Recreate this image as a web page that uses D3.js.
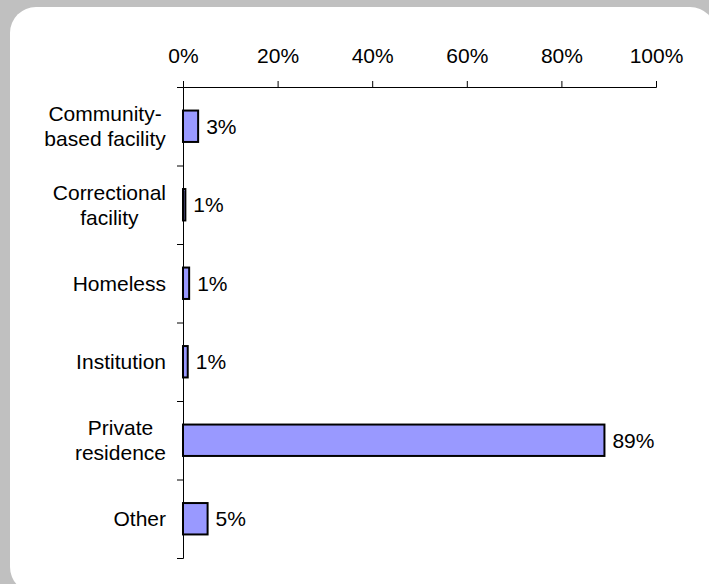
<!DOCTYPE html>
<html><head><meta charset="utf-8">
<script src="https://cdn.jsdelivr.net/npm/d3@7"></script>
<style>html,body{margin:0;padding:0;background:#c0c0c0;}svg{display:block;}</style>
</head><body>
<svg id="chart" width="709" height="584"></svg>
<script>
const categories = [["Community-","based facility"],["Correctional","facility"],["Homeless"],["Institution"],["Private","residence"],["Other"]];
const categoryKeys = ["Community-based facility","Correctional facility","Homeless","Institution","Private residence","Other"];
const values = [3.2, 0.5, 1.3, 1.0, 89.1, 5.2];
const valueLabels = ["3%","1%","1%","1%","89%","5%"];
const tickValues = [0,20,40,60,80,100];
const tickLabels = ["0%","20%","40%","60%","80%","100%"];

const svg = d3.select("#chart");
const font = "Liberation Sans, Arial, sans-serif";
const fs = 21;

svg.append("rect").attr("x",10).attr("y",7).attr("width",706).attr("height",586)
  .attr("rx",26).attr("ry",26).attr("fill","#ffffff");

const x0 = 183, x1 = 656, yTop = 87, yBot = 558;
const x = d3.scaleLinear().domain([0,100]).range([x0,x1]);
const y = d3.scaleBand().domain(categoryKeys).range([yTop,yBot]).paddingInner(0.6).paddingOuter(0.3);
const yb = d3.scaleLinear().domain([0,6]).range([yTop,yBot]);

// bars
svg.append("g").selectAll("rect").data(values).join("rect")
  .attr("x", x(0))
  .attr("y", (d,i)=>y(categoryKeys[i]))
  .attr("width", d=>x(d)-x(0))
  .attr("height", y.bandwidth())
  .attr("fill","#9999ff").attr("stroke","#000").attr("stroke-width",2);

// x axis (top)
const gx = svg.append("g").attr("transform",`translate(0,${yTop})`)
  .call(d3.axisTop(x).tickValues(tickValues).tickFormat((d,i)=>tickLabels[i]).tickSize(6).tickSizeOuter(6).tickPadding(18));
gx.selectAll("text").attr("font-family",font).attr("font-size",fs).attr("fill","#000");
gx.selectAll("line,path").attr("stroke","#000");

// y axis (left) with ticks at category boundaries
const gy = svg.append("g").attr("transform",`translate(${x0},0)`)
  .call(d3.axisLeft(yb).tickValues([0,1,2,3,4,5,6]).tickFormat("").tickSize(6).tickSizeOuter(6));
gy.selectAll("line,path").attr("stroke","#000");

// category labels
const lineH = 25;
categories.forEach((lines,i)=>{
  const cy = y(categoryKeys[i]) + y.bandwidth()/2;
  const g = svg.append("g");
  const t = g.append("text").attr("font-family",font).attr("font-size",fs).attr("fill","#000")
    .attr("text-anchor","middle");
  const n = lines.length;
  lines.forEach((l,j)=>{
    t.append("tspan").attr("x",0).attr("y", cy + (j-(n-1)/2)*lineH).attr("dy","0.35em").text(l);
  });
  const w = t.node().getBBox().width;
  t.attr("transform",`translate(${166 - w/2},0)`);
});

// value labels
svg.append("g").selectAll("text").data(values).join("text")
  .attr("x", d=>x(d)+8)
  .attr("y", (d,i)=>y(categoryKeys[i]) + y.bandwidth()/2)
  .attr("dy","0.35em")
  .attr("font-family",font).attr("font-size",fs).attr("fill","#000")
  .text((d,i)=>valueLabels[i]);
</script>
</body></html>
